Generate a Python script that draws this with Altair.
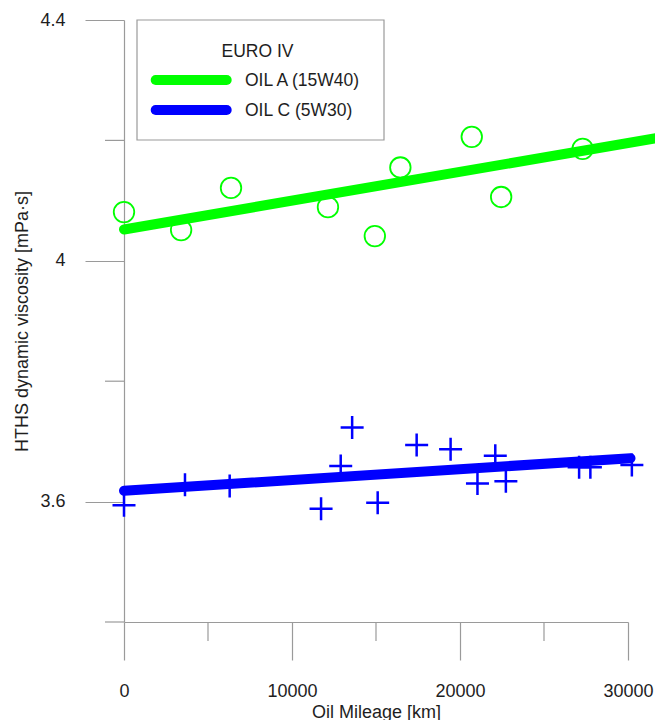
import altair as alt
import pandas as pd

# ---------------- data ----------------
series_names = ["OIL A (15W40)", "OIL C (5W30)"]
series_colors = ["#00ff00", "#0000ff"]
legend_title = "EURO IV"

oil_a_km = [0, 3400, 6370, 12140, 14930, 16450, 20700, 22450, 27300]
oil_a_hths = [4.081, 4.051, 4.121, 4.089, 4.041, 4.155, 4.206, 4.106, 4.186]

oil_c_km = [0, 3630, 6290, 11730, 12900, 13580, 15100, 17420, 19440,
            21040, 22100, 22730, 27090, 27760, 30230]
oil_c_hths = [3.594, 3.628, 3.626, 3.588, 3.659, 3.723, 3.598, 3.694, 3.687,
              3.630, 3.676, 3.634, 3.657, 3.657, 3.661]

fit_a_km = [0, 33000]
fit_a_hths = [4.052, 4.210]
fit_c_km = [0, 30150]
fit_c_hths = [3.618, 3.672]

x_major_ticks = [0, 10000, 20000, 30000]
x_minor_ticks = [5000, 15000, 25000]
y_major_ticks = [3.6, 4.0, 4.4]
y_minor_ticks = [3.4, 3.8, 4.2]

x_title = "Oil Mileage [km]"
y_title = "HTHS dynamic viscosity [mPa·s]"

# ---------------- styling ----------------
FONT = "Liberation Sans"
TXT = "#1e1e1e"
AX = "#9a9a9a"
W, H = 504, 602

x_scale = alt.Scale(domain=[0, 30000], nice=False, zero=False)
y_scale = alt.Scale(domain=[3.4, 4.4], nice=False, zero=False)

x_axis = alt.Axis(
    values=x_major_ticks, format="d", tickSize=38, labelPadding=22,
    labelFontSize=18, labelFont=FONT, labelColor=TXT, labelFlush=False,
    labelOverlap=False, domainColor=AX, tickColor=AX, domainWidth=1.2,
    tickWidth=1.2, grid=False, title=x_title, titleFont=FONT,
    titleFontSize=18, titleFontWeight="normal", titleColor=TXT,
    titleX=W / 2, titleY=95, titleBaseline="alphabetic", titleAlign="center",
)
y_axis = alt.Axis(
    values=y_major_ticks, format="~g", tickSize=39, labelPadding=20,
    labelFontSize=18, labelFont=FONT, labelColor=TXT, labelFlush=False,
    labelOverlap=False, domainColor=AX, tickColor=AX, domainWidth=1.2,
    tickWidth=1.2, grid=False, title=y_title, titleFont=FONT,
    titleFontSize=18, titleFontWeight="normal", titleColor=TXT,
    titleX=-96.5, titleY=H / 2, titleAngle=-90, titleBaseline="alphabetic",
    titleAlign="center",
)


def X():
    return alt.X("km:Q", scale=x_scale, axis=x_axis)


def Y():
    return alt.Y("hths:Q", scale=y_scale, axis=y_axis)


df_a = pd.DataFrame({"km": oil_a_km, "hths": oil_a_hths})
df_c = pd.DataFrame({"km": oil_c_km, "hths": oil_c_hths})
df_fa = pd.DataFrame({"km": fit_a_km, "hths": fit_a_hths})
df_fc = pd.DataFrame({"km": fit_c_km, "hths": fit_c_hths})

pts_a = alt.Chart(df_a).mark_point(
    shape="circle", size=420, filled=False, strokeWidth=1.8,
    color=series_colors[0], opacity=1,
).encode(x=X(), y=Y())

pts_c = alt.Chart(df_c).mark_point(
    shape="M-1,0L1,0M0,-1L0,1", size=529, filled=False, strokeWidth=2.5,
    color=series_colors[1], opacity=1,
).encode(x=X(), y=Y())

line_a = alt.Chart(df_fa).mark_line(
    strokeWidth=10, strokeCap="round", color=series_colors[0]
).encode(x=X(), y=Y())

line_c = alt.Chart(df_fc).mark_line(
    strokeWidth=10, strokeCap="round", color=series_colors[1]
).encode(x=X(), y=Y())

# minor ticks
minor_x = alt.Chart(pd.DataFrame({"km": x_minor_ticks})).mark_rule(
    color=AX, strokeWidth=1.2
).encode(x=X(), y=alt.value(H), y2=alt.value(H + 19))

minor_y = alt.Chart(pd.DataFrame({"hths": y_minor_ticks})).mark_rule(
    color=AX, strokeWidth=1.2
).encode(y=Y(), x=alt.value(-19), x2=alt.value(0))

# legend (drawn by hand inside the plot)
blank = alt.Data(values=[{}])
leg_box = alt.Chart(blank).mark_rect(
    fill="white", stroke=AX, strokeWidth=1.2
).encode(x=alt.value(13), x2=alt.value(260), y=alt.value(0), y2=alt.value(120))

leg_title = alt.Chart(blank).mark_text(
    text=legend_title, font=FONT, fontSize=17.5, color=TXT,
    align="center", baseline="alphabetic",
).encode(x=alt.value(133.5), y=alt.value(36.7))

leg_layers = []
for i, (name, col) in enumerate(zip(series_names, series_colors)):
    leg_layers.append(
        alt.Chart(blank).mark_rule(color=col, strokeWidth=10, strokeCap="round")
        .encode(x=alt.value(31.7), x2=alt.value(102.7), y=alt.value(60 + 30 * i))
    )
    leg_layers.append(
        alt.Chart(blank).mark_text(
            text=name, font=FONT, fontSize=17.5, color=TXT,
            align="left", baseline="alphabetic",
        ).encode(x=alt.value(121), y=alt.value(66 + 30 * i))
    )

chart = alt.layer(
    minor_x, minor_y, pts_a, pts_c, line_a, line_c, leg_box, leg_title, *leg_layers
).properties(
    width=W, height=H,
    autosize=alt.AutoSizeParams(type="none"),
    padding={"left": 124, "top": 20, "right": 27, "bottom": 98},
    background="white",
).configure_view(stroke=None)

chart.save("out.html", embed_options={"renderer": "svg", "actions": False})
